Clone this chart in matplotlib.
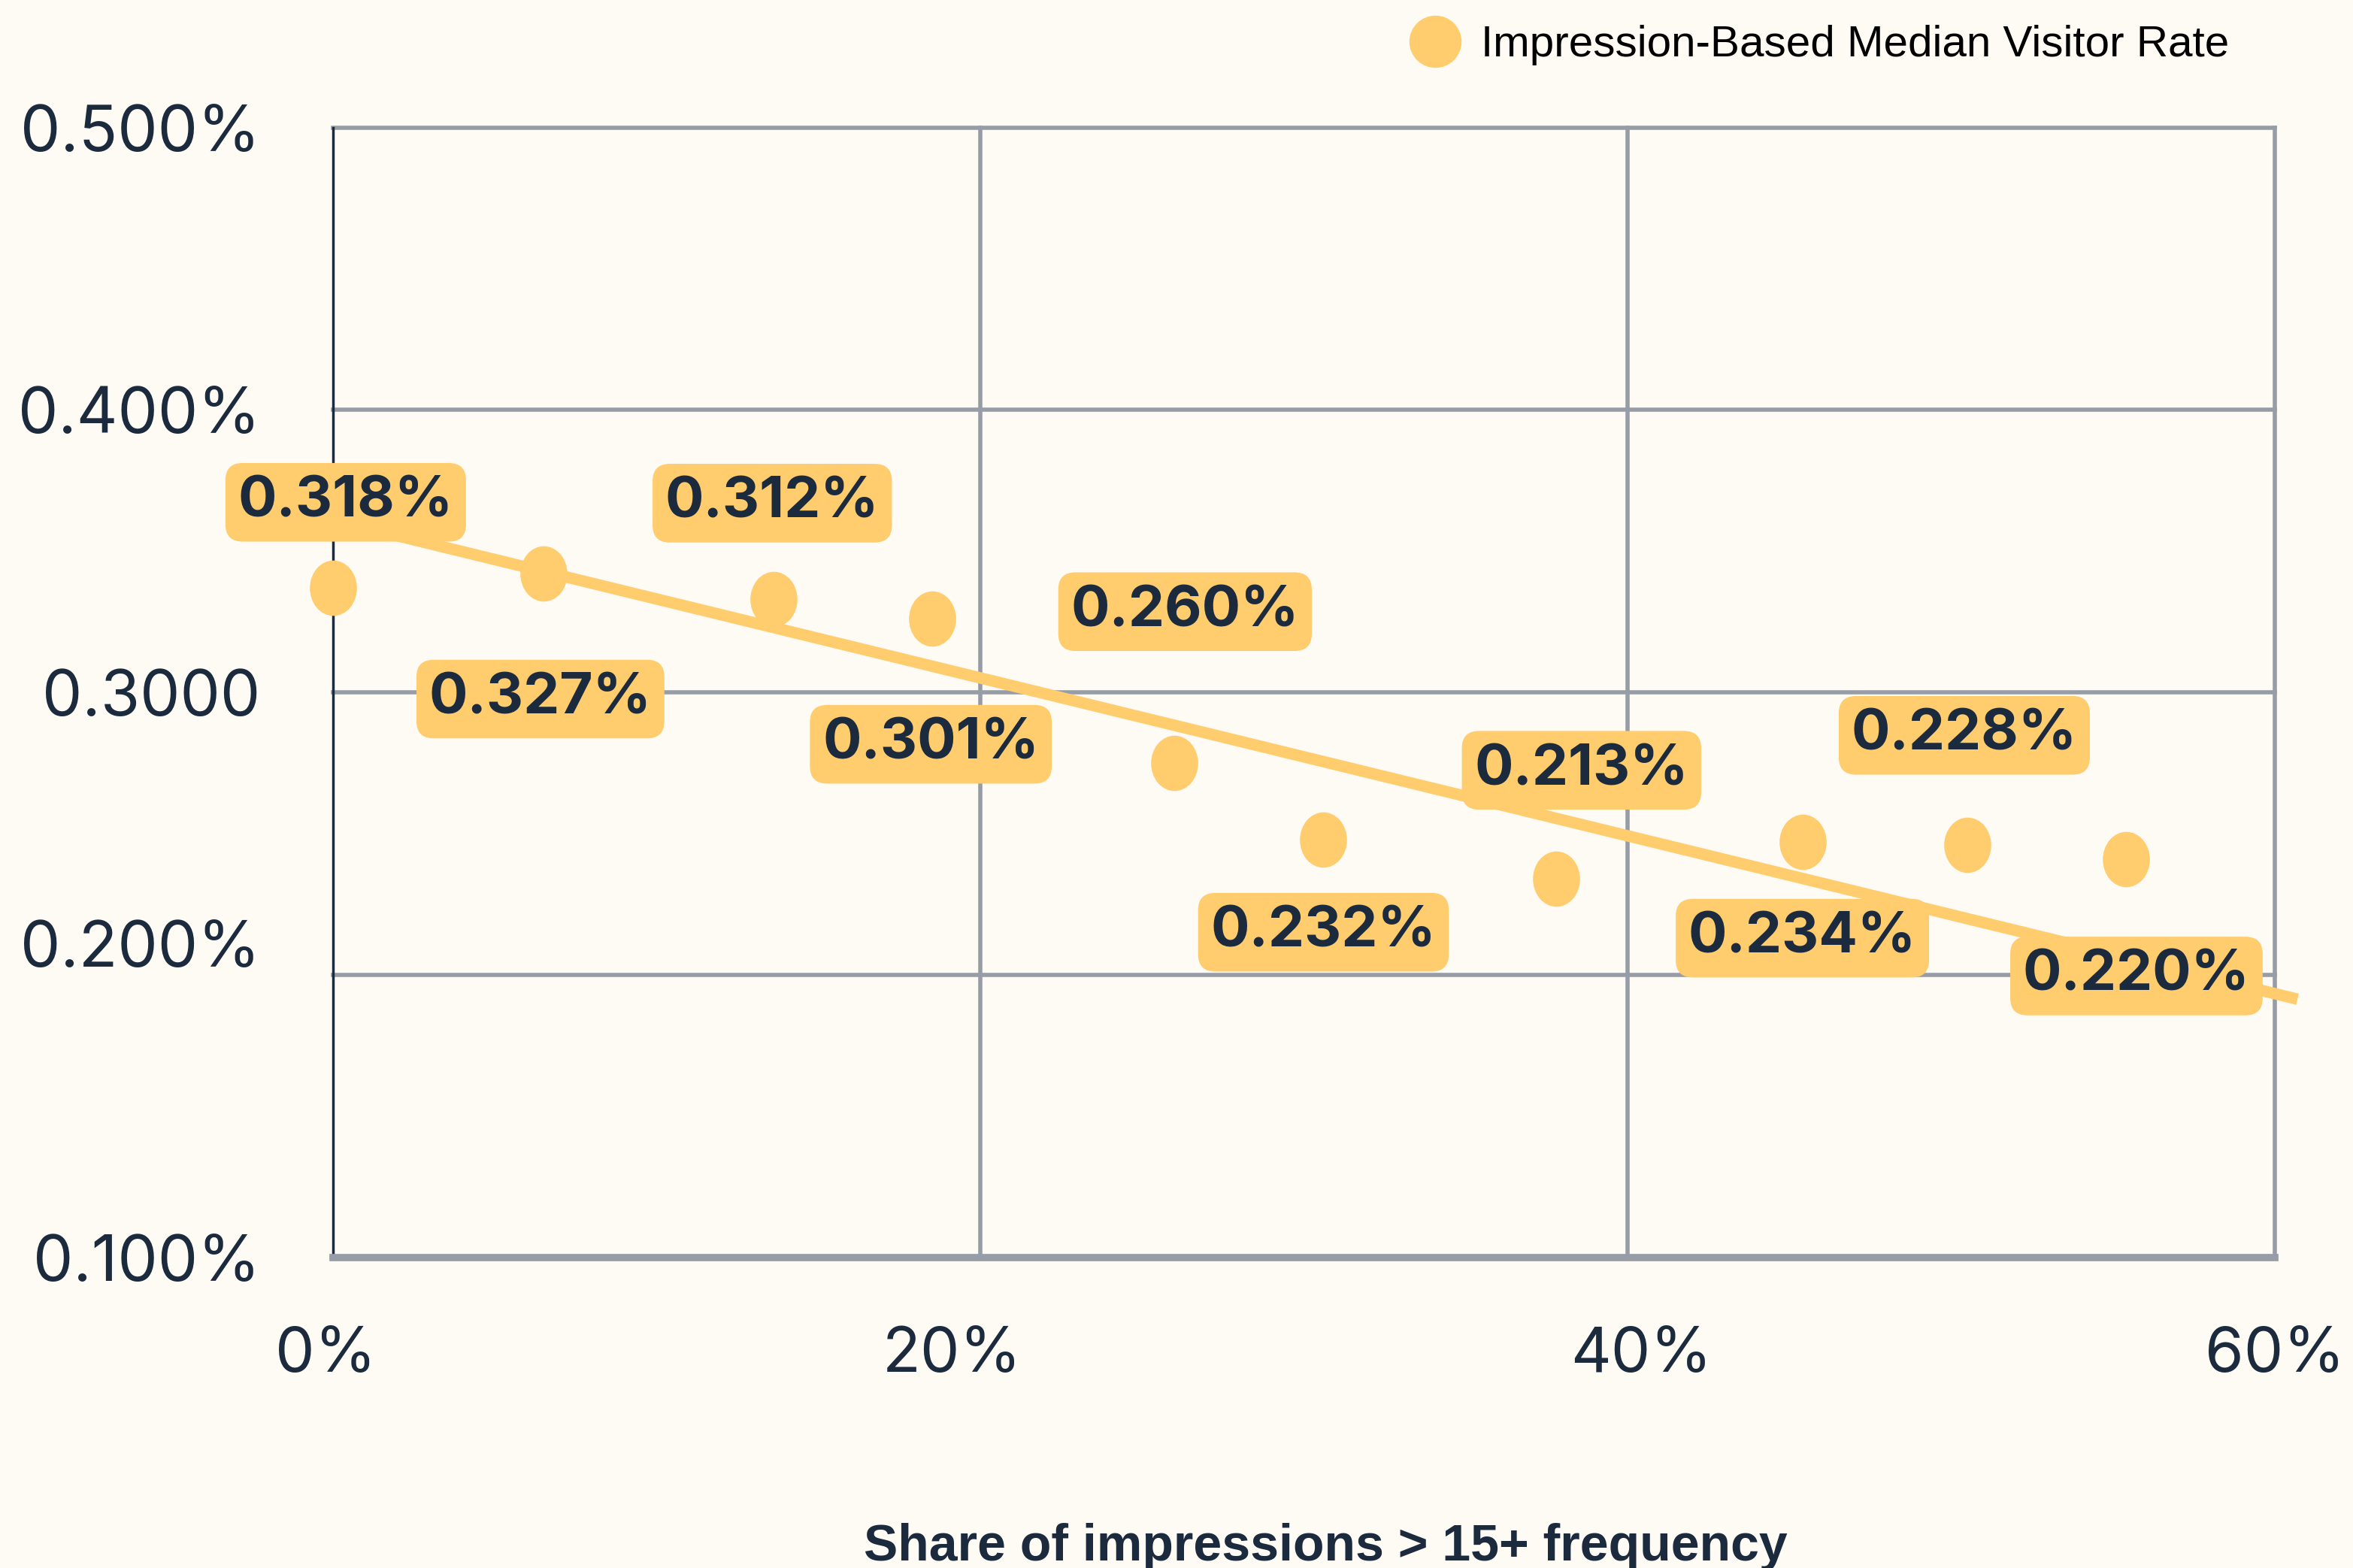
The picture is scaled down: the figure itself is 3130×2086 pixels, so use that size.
import matplotlib.pyplot as plt
from matplotlib.path import Path
from matplotlib.transforms import Affine2D, ScaledTranslation
from matplotlib.lines import Line2D

# share of impressions above 15+ frequency (%) and the median visitor rate (%)
share_pct = [0.0, 6.5, 13.6, 18.5, 26.0, 30.6, 37.8, 45.4, 50.5, 55.4]
visitor_rate = [0.337, 0.342, 0.333, 0.326, 0.275, 0.248, 0.234, 0.247, 0.246, 0.241]
point_labels = ['0.318%', '0.327%', '0.312%', '0.301%', '0.260%',
                '0.232%', '0.213%', '0.234%', '0.228%', '0.220%']

# trend line end points
trend_x = [0.0, 60.7]
trend_y = [0.361, 0.1914]

x_ticks = [0, 20, 40, 60]
x_ticklabels = ['0%', '20%', '40%', '60%']
y_ticks = [0.1, 0.2, 0.3, 0.4, 0.5]
y_ticklabels = ['0.100%', '0.200%', '0.3000', '0.400%', '0.500%']

series_name = 'Impression-Based Median Visitor Rate'
x_title = 'Share of impressions > 15+ frequency'

# label offsets from each dot (points)
label_offsets = [(12, 82), (-3, -120), (-1, 92), (-1, -120), (10, 145),
                 (0, -89), (24, 104), (0, -92), (-3, 105), (10, -112)]
# small horizontal nudges of the x tick labels (points)
xlabel_nudge = [-7, -27, 13, 0]

BG = '#FEFBF5'
YELLOW = '#FFCC6E'
NAVY = '#1C2A3E'
GRID = '#979DA6'

fig = plt.figure(figsize=(31.3, 20.86), dpi=100, facecolor=BG)
ax = fig.add_axes([0.1416, 0.1981, 0.8252, 0.7206])
ax.set_facecolor(BG)

ax.set_xlim(0, 60)
ax.set_ylim(0.1, 0.5)
ax.set_xticks(x_ticks)
ax.set_xticklabels(x_ticklabels, fontsize=60, color=NAVY, family=['Inter', 'DejaVu Sans'])
ax.set_yticks(y_ticks)
ax.set_yticklabels(y_ticklabels, fontsize=61, color=NAVY, family=['Inter', 'DejaVu Sans'])
ax.tick_params(axis='both', length=0)
ax.tick_params(axis='x', pad=66)
ax.tick_params(axis='y', pad=70)

# the 0.200% label sits a bit above its grid line
lab = ax.get_yticklabels()[1]
lab.set_transform(lab.get_transform() + ScaledTranslation(0, 30 / 72, fig.dpi_scale_trans))
for lab, dx in zip(ax.get_xticklabels(), xlabel_nudge):
    lab.set_transform(lab.get_transform() + ScaledTranslation(dx / 72, 0, fig.dpi_scale_trans))

ax.grid(True, color=GRID, lw=4)
for gl in ax.get_xgridlines() + ax.get_ygridlines():
    gl.set_clip_on(False)
ax.get_xgridlines()[0].set_visible(False)
ax.get_ygridlines()[0].set_visible(False)
ax.set_axisbelow(True)

for s in ['top', 'right']:
    ax.spines[s].set_visible(False)
ax.spines['bottom'].set_color(GRID)
ax.spines['bottom'].set_linewidth(7)
ax.spines['left'].set_color(NAVY)
ax.spines['left'].set_linewidth(2.5)

# trend line
ax.plot(trend_x, trend_y, color=YELLOW, lw=11, solid_capstyle='butt',
        clip_on=False, zorder=3)

# oval markers
oval = Path.unit_circle().transformed(Affine2D().scale(0.85, 1.0))
ax.scatter(share_pct, visitor_rate, marker=oval, s=53 ** 2, color=YELLOW,
           linewidths=0, zorder=4, clip_on=False)

for x, y, txt, off in zip(share_pct, visitor_rate, point_labels, label_offsets):
    ax.annotate(txt, (x, y), xytext=off, textcoords='offset points',
                ha='center', va='center', fontsize=55, fontweight='bold',
                color=NAVY, family=['Inter', 'DejaVu Sans'], zorder=5,
                annotation_clip=False,
                bbox=dict(boxstyle='round,pad=0.22,rounding_size=0.3',
                          fc=YELLOW, ec='none'))

handle = Line2D([], [], marker='o', ls='none', ms=50, color=YELLOW, mec='none')
fig.legend([handle], [series_name], loc='center left', bbox_to_anchor=(0.6015, 0.971),
           frameon=False, borderpad=0, borderaxespad=0, handlelength=0.9,
           handletextpad=0.6,
           prop={'family': ['Liberation Sans', 'DejaVu Sans'], 'size': 42})

fig.text(0.5633, 0.005, x_title, ha='center', va='baseline', fontsize=49,
         fontweight='bold', color=NAVY,
         family=['Liberation Sans', 'DejaVu Sans'])

fig.savefig('out.png', dpi=100, facecolor=BG)
